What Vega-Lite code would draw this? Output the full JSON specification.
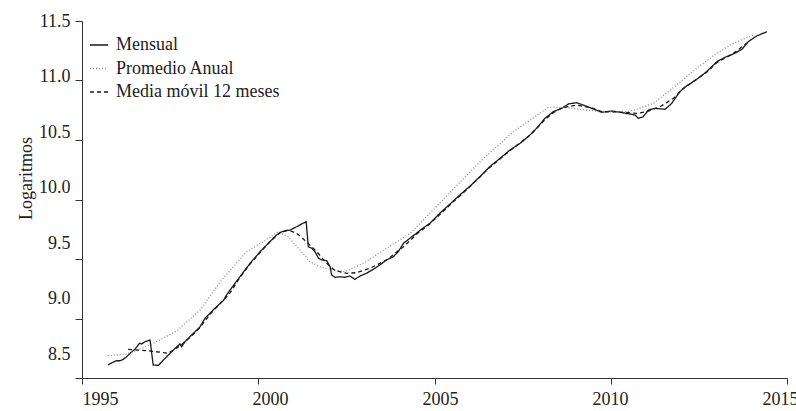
{
  "$schema": "https://vega.github.io/schema/vega-lite/v6.json",
  "width": 705,
  "height": 357,
  "autosize": {"type": "none"},
  "padding": {"left": 82, "top": 21, "right": 9, "bottom": 33},
  "background": "white",
  "config": {
    "view": {"stroke": null},
    "font": "Liberation Serif",
    "axis": {"grid": false, "domainColor": "#333", "tickColor": "#333", "labelColor": "#222", "titleColor": "#222", "labelFont": "Liberation Serif", "titleFont": "Liberation Serif", "labelFontSize": 18, "titleFontSize": 18, "titleFontWeight": "normal", "domainWidth": 1, "tickWidth": 1}
  },
  "data": {"values": [
    {"t":1995.73,"v":8.609,"s":"Mensual"},{"t":1995.89,"v":8.634,"s":"Mensual"},{"t":1995.98,"v":8.645,"s":"Mensual"},{"t":1996.08,"v":8.645,"s":"Mensual"},{"t":1996.17,"v":8.657,"s":"Mensual"},{"t":1996.27,"v":8.679,"s":"Mensual"},{"t":1996.36,"v":8.707,"s":"Mensual"},{"t":1996.50,"v":8.741,"s":"Mensual"},{"t":1996.63,"v":8.791,"s":"Mensual"},{"t":1996.69,"v":8.786,"s":"Mensual"},{"t":1996.79,"v":8.805,"s":"Mensual"},{"t":1996.93,"v":8.819,"s":"Mensual"},{"t":1997.02,"v":8.609,"s":"Mensual"},{"t":1997.17,"v":8.606,"s":"Mensual"},{"t":1997.31,"v":8.651,"s":"Mensual"},{"t":1997.45,"v":8.693,"s":"Mensual"},{"t":1997.64,"v":8.749,"s":"Mensual"},{"t":1997.78,"v":8.786,"s":"Mensual"},{"t":1997.83,"v":8.763,"s":"Mensual"},{"t":1997.92,"v":8.805,"s":"Mensual"},{"t":1998.06,"v":8.847,"s":"Mensual"},{"t":1998.21,"v":8.889,"s":"Mensual"},{"t":1998.35,"v":8.931,"s":"Mensual"},{"t":1998.49,"v":9.002,"s":"Mensual"},{"t":1998.63,"v":9.044,"s":"Mensual"},{"t":1998.77,"v":9.086,"s":"Mensual"},{"t":1998.87,"v":9.113,"s":"Mensual"},{"t":1999.01,"v":9.150,"s":"Mensual"},{"t":1999.10,"v":9.197,"s":"Mensual"},{"t":1999.20,"v":9.239,"s":"Mensual"},{"t":1999.48,"v":9.351,"s":"Mensual"},{"t":1999.77,"v":9.464,"s":"Mensual"},{"t":2000.05,"v":9.561,"s":"Mensual"},{"t":2000.33,"v":9.645,"s":"Mensual"},{"t":2000.52,"v":9.702,"s":"Mensual"},{"t":2000.67,"v":9.729,"s":"Mensual"},{"t":2000.91,"v":9.744,"s":"Mensual"},{"t":2001.09,"v":9.771,"s":"Mensual"},{"t":2001.23,"v":9.794,"s":"Mensual"},{"t":2001.36,"v":9.813,"s":"Mensual"},{"t":2001.42,"v":9.603,"s":"Mensual"},{"t":2001.52,"v":9.590,"s":"Mensual"},{"t":2001.61,"v":9.561,"s":"Mensual"},{"t":2001.71,"v":9.506,"s":"Mensual"},{"t":2001.80,"v":9.492,"s":"Mensual"},{"t":2001.94,"v":9.486,"s":"Mensual"},{"t":2002.04,"v":9.435,"s":"Mensual"},{"t":2002.08,"v":9.366,"s":"Mensual"},{"t":2002.18,"v":9.346,"s":"Mensual"},{"t":2002.32,"v":9.351,"s":"Mensual"},{"t":2002.46,"v":9.346,"s":"Mensual"},{"t":2002.60,"v":9.357,"s":"Mensual"},{"t":2002.74,"v":9.329,"s":"Mensual"},{"t":2002.89,"v":9.357,"s":"Mensual"},{"t":2003.07,"v":9.380,"s":"Mensual"},{"t":2003.26,"v":9.413,"s":"Mensual"},{"t":2003.45,"v":9.450,"s":"Mensual"},{"t":2003.64,"v":9.492,"s":"Mensual"},{"t":2003.83,"v":9.519,"s":"Mensual"},{"t":2003.97,"v":9.561,"s":"Mensual"},{"t":2004.12,"v":9.632,"s":"Mensual"},{"t":2004.36,"v":9.687,"s":"Mensual"},{"t":2004.54,"v":9.729,"s":"Mensual"},{"t":2004.73,"v":9.771,"s":"Mensual"},{"t":2004.87,"v":9.800,"s":"Mensual"},{"t":2005.16,"v":9.887,"s":"Mensual"},{"t":2005.44,"v":9.962,"s":"Mensual"},{"t":2005.72,"v":10.038,"s":"Mensual"},{"t":2006.01,"v":10.113,"s":"Mensual"},{"t":2006.29,"v":10.192,"s":"Mensual"},{"t":2006.57,"v":10.276,"s":"Mensual"},{"t":2006.86,"v":10.346,"s":"Mensual"},{"t":2007.14,"v":10.416,"s":"Mensual"},{"t":2007.43,"v":10.472,"s":"Mensual"},{"t":2007.71,"v":10.542,"s":"Mensual"},{"t":2007.94,"v":10.612,"s":"Mensual"},{"t":2008.13,"v":10.682,"s":"Mensual"},{"t":2008.37,"v":10.738,"s":"Mensual"},{"t":2008.61,"v":10.766,"s":"Mensual"},{"t":2008.80,"v":10.803,"s":"Mensual"},{"t":2009.03,"v":10.813,"s":"Mensual"},{"t":2009.22,"v":10.794,"s":"Mensual"},{"t":2009.46,"v":10.766,"s":"Mensual"},{"t":2009.74,"v":10.733,"s":"Mensual"},{"t":2010.03,"v":10.744,"s":"Mensual"},{"t":2010.26,"v":10.733,"s":"Mensual"},{"t":2010.55,"v":10.718,"s":"Mensual"},{"t":2010.69,"v":10.710,"s":"Mensual"},{"t":2010.78,"v":10.682,"s":"Mensual"},{"t":2010.92,"v":10.696,"s":"Mensual"},{"t":2011.07,"v":10.752,"s":"Mensual"},{"t":2011.26,"v":10.766,"s":"Mensual"},{"t":2011.54,"v":10.758,"s":"Mensual"},{"t":2011.73,"v":10.808,"s":"Mensual"},{"t":2011.96,"v":10.906,"s":"Mensual"},{"t":2012.15,"v":10.954,"s":"Mensual"},{"t":2012.44,"v":11.010,"s":"Mensual"},{"t":2012.72,"v":11.074,"s":"Mensual"},{"t":2013.01,"v":11.158,"s":"Mensual"},{"t":2013.24,"v":11.195,"s":"Mensual"},{"t":2013.48,"v":11.223,"s":"Mensual"},{"t":2013.72,"v":11.262,"s":"Mensual"},{"t":2013.90,"v":11.326,"s":"Mensual"},{"t":2014.14,"v":11.374,"s":"Mensual"},{"t":2014.43,"v":11.410,"s":"Mensual"},
    {"t":1995.73,"v":8.687,"s":"Promedio Anual"},{"t":1996.27,"v":8.702,"s":"Promedio Anual"},{"t":1996.93,"v":8.777,"s":"Promedio Anual"},{"t":1997.69,"v":8.897,"s":"Promedio Anual"},{"t":1998.35,"v":9.071,"s":"Promedio Anual"},{"t":1998.96,"v":9.324,"s":"Promedio Anual"},{"t":1999.67,"v":9.561,"s":"Promedio Anual"},{"t":2000.14,"v":9.645,"s":"Promedio Anual"},{"t":2000.57,"v":9.729,"s":"Promedio Anual"},{"t":2000.85,"v":9.687,"s":"Promedio Anual"},{"t":2001.18,"v":9.576,"s":"Promedio Anual"},{"t":2001.47,"v":9.477,"s":"Promedio Anual"},{"t":2001.75,"v":9.435,"s":"Promedio Anual"},{"t":2002.04,"v":9.413,"s":"Promedio Anual"},{"t":2002.46,"v":9.393,"s":"Promedio Anual"},{"t":2002.98,"v":9.464,"s":"Promedio Anual"},{"t":2003.64,"v":9.590,"s":"Promedio Anual"},{"t":2004.31,"v":9.716,"s":"Promedio Anual"},{"t":2004.87,"v":9.884,"s":"Promedio Anual"},{"t":2006.29,"v":10.318,"s":"Promedio Anual"},{"t":2007.24,"v":10.570,"s":"Promedio Anual"},{"t":2008.23,"v":10.775,"s":"Promedio Anual"},{"t":2008.65,"v":10.775,"s":"Promedio Anual"},{"t":2009.13,"v":10.758,"s":"Promedio Anual"},{"t":2009.70,"v":10.738,"s":"Promedio Anual"},{"t":2010.36,"v":10.733,"s":"Promedio Anual"},{"t":2010.74,"v":10.758,"s":"Promedio Anual"},{"t":2011.21,"v":10.808,"s":"Promedio Anual"},{"t":2011.78,"v":10.941,"s":"Promedio Anual"},{"t":2012.44,"v":11.103,"s":"Promedio Anual"},{"t":2013.01,"v":11.229,"s":"Promedio Anual"},{"t":2013.48,"v":11.313,"s":"Promedio Anual"},{"t":2014.04,"v":11.382,"s":"Promedio Anual"},
    {"t":1996.31,"v":8.741,"s":"Media móvil 12 meses"},{"t":1996.93,"v":8.727,"s":"Media móvil 12 meses"},{"t":1997.45,"v":8.708,"s":"Media móvil 12 meses"},{"t":1997.78,"v":8.770,"s":"Media móvil 12 meses"},{"t":1998.06,"v":8.840,"s":"Media móvil 12 meses"},{"t":1998.35,"v":8.925,"s":"Media móvil 12 meses"},{"t":1998.63,"v":9.035,"s":"Media móvil 12 meses"},{"t":1998.87,"v":9.110,"s":"Media móvil 12 meses"},{"t":1999.20,"v":9.215,"s":"Media móvil 12 meses"},{"t":1999.48,"v":9.345,"s":"Media móvil 12 meses"},{"t":1999.77,"v":9.460,"s":"Media móvil 12 meses"},{"t":2000.05,"v":9.555,"s":"Media móvil 12 meses"},{"t":2000.33,"v":9.645,"s":"Media móvil 12 meses"},{"t":2000.62,"v":9.725,"s":"Media móvil 12 meses"},{"t":2000.85,"v":9.744,"s":"Media móvil 12 meses"},{"t":2001.09,"v":9.716,"s":"Media móvil 12 meses"},{"t":2001.37,"v":9.645,"s":"Media móvil 12 meses"},{"t":2001.66,"v":9.561,"s":"Media móvil 12 meses"},{"t":2001.94,"v":9.464,"s":"Media móvil 12 meses"},{"t":2002.18,"v":9.402,"s":"Media móvil 12 meses"},{"t":2002.51,"v":9.380,"s":"Media móvil 12 meses"},{"t":2002.79,"v":9.385,"s":"Media móvil 12 meses"},{"t":2003.17,"v":9.422,"s":"Media móvil 12 meses"},{"t":2003.64,"v":9.492,"s":"Media móvil 12 meses"},{"t":2004.12,"v":9.603,"s":"Media móvil 12 meses"},{"t":2004.54,"v":9.720,"s":"Media móvil 12 meses"},{"t":2004.87,"v":9.795,"s":"Media móvil 12 meses"},{"t":2005.44,"v":9.955,"s":"Media móvil 12 meses"},{"t":2006.01,"v":10.110,"s":"Media móvil 12 meses"},{"t":2006.57,"v":10.270,"s":"Media móvil 12 meses"},{"t":2007.14,"v":10.410,"s":"Media móvil 12 meses"},{"t":2007.71,"v":10.540,"s":"Media móvil 12 meses"},{"t":2008.13,"v":10.670,"s":"Media móvil 12 meses"},{"t":2008.37,"v":10.730,"s":"Media móvil 12 meses"},{"t":2008.61,"v":10.770,"s":"Media móvil 12 meses"},{"t":2009.03,"v":10.794,"s":"Media móvil 12 meses"},{"t":2009.46,"v":10.770,"s":"Media móvil 12 meses"},{"t":2009.74,"v":10.738,"s":"Media móvil 12 meses"},{"t":2010.26,"v":10.735,"s":"Media móvil 12 meses"},{"t":2010.74,"v":10.724,"s":"Media móvil 12 meses"},{"t":2011.02,"v":10.738,"s":"Media móvil 12 meses"},{"t":2011.40,"v":10.780,"s":"Media móvil 12 meses"},{"t":2011.78,"v":10.850,"s":"Media móvil 12 meses"},{"t":2012.06,"v":10.934,"s":"Media móvil 12 meses"},{"t":2012.44,"v":11.010,"s":"Media móvil 12 meses"},{"t":2012.72,"v":11.070,"s":"Media móvil 12 meses"},{"t":2013.01,"v":11.150,"s":"Media móvil 12 meses"},{"t":2013.48,"v":11.228,"s":"Media móvil 12 meses"},{"t":2013.93,"v":11.330,"s":"Media móvil 12 meses"}
  ]},
  "mark": {"type": "line", "strokeWidth": 1.3},
  "encoding": {
    "x": {"field": "t", "type": "quantitative",
      "scale": {"domain": [1995, 2015], "nice": false, "zero": false},
      "axis": {"title": null, "values": [1995, 2000, 2005, 2010, 2015], "format": "d", "tickSize": 6, "labelPadding": 6,
        "labelFlush": false, "labelOverlap": false,
        "labelOffset": {"expr": "18 - (datum.value - 1995) * 1.25"}}},
    "y": {"field": "v", "type": "quantitative",
      "scale": {"domain": [8.5, 11.5], "nice": false, "zero": false},
      "axis": {"title": "Logaritmos", "values": [8.5, 9, 9.5, 10, 10.5, 11, 11.5], "format": ".1f", "tickSize": 7, "labelPadding": 5,
        "titleX": -47, "titleY": 157,
        "labelFlush": false, "labelOverlap": false,
        "labelOffset": {"expr": "(datum.value - 11.5) * 8"}}},
    "color": {"field": "s", "type": "nominal",
      "scale": {"domain": ["Mensual", "Promedio Anual", "Media móvil 12 meses"], "range": ["#1a1a1a", "#8c8c8c", "#1a1a1a"]},
      "legend": {"title": null, "orient": "none", "legendX": 7, "legendY": 14, "padding": 0,
        "labelFont": "Liberation Serif", "labelFontSize": 18, "labelColor": "#222", "labelOffset": 7, "labelLimit": 0,
        "symbolType": "stroke", "symbolSize": 324, "symbolStrokeWidth": 1.5, "rowPadding": 4.5}},
    "strokeDash": {"field": "s", "type": "nominal",
      "scale": {"domain": ["Mensual", "Promedio Anual", "Media móvil 12 meses"], "range": [[1, 0], [1, 2], [4, 3]]},
      "legend": {"title": null, "orient": "none", "legendX": 7, "legendY": 14, "padding": 0,
        "labelFont": "Liberation Serif", "labelFontSize": 18, "labelColor": "#222", "labelOffset": 7, "labelLimit": 0,
        "symbolType": "stroke", "symbolSize": 324, "symbolStrokeWidth": 1.5, "rowPadding": 4.5}}
  }
}
